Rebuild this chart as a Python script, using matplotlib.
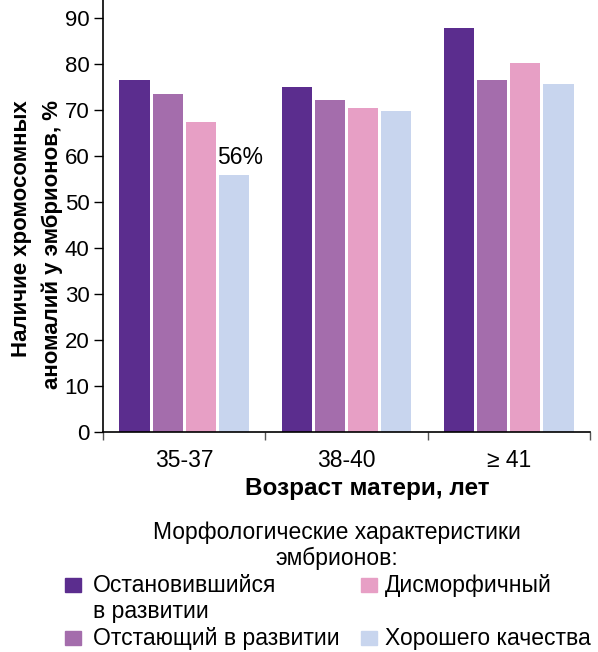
import numpy as np
import matplotlib.pyplot as plt
from matplotlib.patches import Rectangle

plt.rcParams['font.family'] = ['Liberation Sans', 'DejaVu Sans']

# data: share of embryos with chromosomal abnormalities, %
age_groups = ["35-37", "38-40", "\u2265 41"]
arrested = [76.7, 75.0, 87.8]
lagging = [73.5, 72.2, 76.7]
dysmorphic = [67.4, 70.4, 80.2]
good_quality = [56, 69.8, 75.7]

series_names = ["Остановившийся\nв развитии", "Отстающий в развитии",
                "Дисморфичный", "Хорошего качества"]
colors = ["#5b2d8e", "#a46dac", "#e79fc5", "#c8d5ee"]
legend_title = "Морфологические характеристики\nэмбрионов:"

W, H = 598.0, 652.0
fig = plt.figure(figsize=(W / 100, H / 100), dpi=100)
ax = fig.add_axes([103 / W, 1 - 432 / H, 487 / W, 432 / H])

x = np.arange(len(age_groups))
width = 0.185
step = 0.204
for i, vals in enumerate([arrested, lagging, dysmorphic, good_quality]):
    ax.bar(x + (i - 1.5) * step, vals, width, color=colors[i], label=series_names[i])

# value label over the good-quality bar of the youngest group
ax.annotate(f"{good_quality[0]:g}%", (x[0] + 1.5 * step, good_quality[0]),
            xytext=(4.7, 8), textcoords="offset points", ha="center", va="baseline",
            fontsize=16.5)

ax.set_xlim(-0.5, 2.5)
ax.set_ylim(0, 94)
ax.set_yticks(np.arange(0, 91, 10))
ax.set_xticks([-0.5, 0.5, 1.5, 2.5])
ax.set_xticklabels([])
ax.set_xticks(x, minor=True)
ax.set_xticklabels(age_groups, minor=True)
ax.tick_params(axis="x", which="major", length=6, width=1, color="#555555")
ax.tick_params(axis="x", which="minor", length=0, labelsize=16.5, pad=12.2)
ax.tick_params(axis="y", length=6.5, width=1, labelsize=16, pad=3.2)

for side in ("top", "right"):
    ax.spines[side].set_visible(False)
for side in ("left", "bottom"):
    ax.spines[side].set_linewidth(1.2)

ax.set_xlabel("Возраст матери, лет", fontsize=17.5, fontweight="bold", va="top")
ax.xaxis.set_label_coords((367.5 - 103) / 487, -(477 - 432) / 432)

fig.text(37 / W, 1 - 100 / H, "Наличие хромосомных\nаномалий у эмбрионов, %",
         rotation=90, ha="center", va="top", multialignment="right",
         fontsize=16, fontweight="bold", linespacing=1.6)

# legend laid out by hand so the rows of both columns line up;
# every text line is placed on its own baseline, 26 px apart
line_gap = 26
for j, line in enumerate(legend_title.split("\n")):
    fig.text(336.5 / W, 1 - (539 + j * line_gap) / H, line,
             ha="center", va="baseline", fontsize=16.5)

# (square x, baseline y, text x, series index)
rows = [(65, 592, 93, 0), (361, 592, 385, 2), (65, 645, 93, 1), (361, 645, 385, 3)]
for px, py, tx, k in rows:
    fig.patches.append(Rectangle((px / W, 1 - py / H), 16 / W, 14 / H,
                                 transform=fig.transFigure, color=colors[k]))
    for j, line in enumerate(series_names[k].split("\n")):
        fig.text(tx / W, 1 - (py + j * line_gap) / H, line,
                 ha="left", va="baseline", fontsize=16.5)

fig.savefig("out.png", dpi=100)
